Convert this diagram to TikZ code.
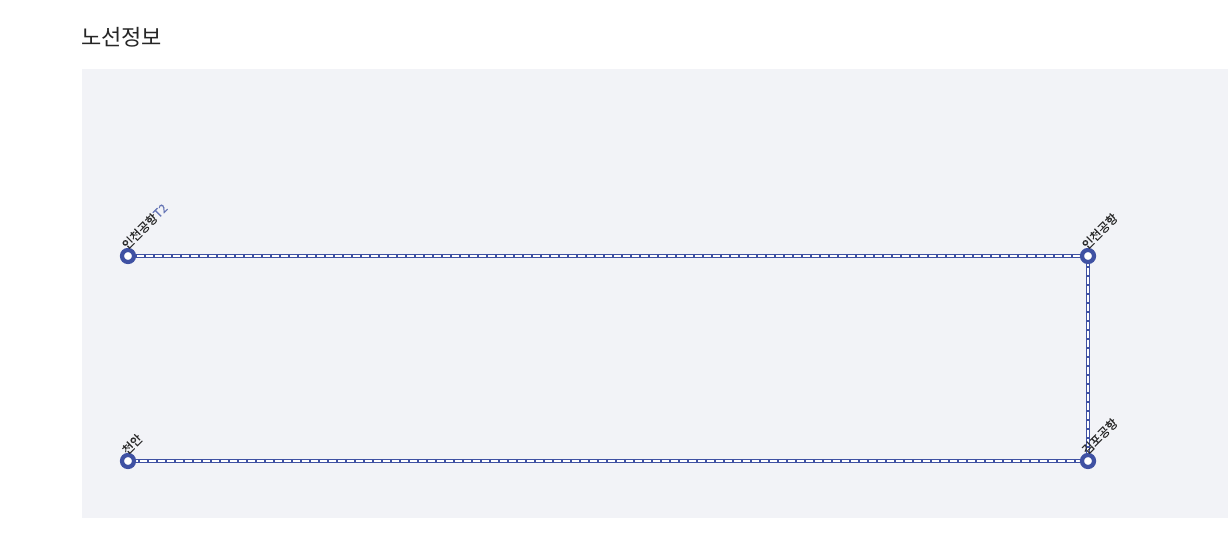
\documentclass[tikz,border=0pt]{standalone}
\usepackage{fontspec}
\usetikzlibrary{calc}
\setmainfont{Noto Sans CJK KR}
\newfontfamily\lblfont[FakeBold=0.5]{Noto Sans CJK KR}
\definecolor{panel}{HTML}{F2F3F7}
\definecolor{route}{HTML}{3F51A3}
\definecolor{txt}{HTML}{2A2A2A}
\begin{document}
\begin{tikzpicture}[x=1pt,y=-1pt,
  track/.style={draw=route,line width=4pt},
  trackin/.style={draw=white,line width=1.1pt,dash pattern=on 7pt off 2pt},
  station/.style={circle,draw=route,fill=white,line width=4.2pt,minimum size=12pt,inner sep=0pt},
  slabel/.style={anchor=south west,rotate=45,inner sep=0pt,font=\lblfont\fontsize{12}{12}\selectfont,text=txt}]
\useasboundingbox (0,0) rectangle (1228,548);
\fill[white] (0,0) rectangle (1228,548);
\fill[panel] (82,69) rectangle (1228,518);
\node[anchor=west,inner sep=0pt,font=\fontsize{22}{22}\selectfont,text=black!85] (title) at (81,37) {노선정보};
\coordinate (a) at (128,256);
\coordinate (b) at (1088,256);
\coordinate (c) at (1088,461);
\coordinate (d) at (128,461);
\draw[track] (a) -- (b) -- (c) -- (d);
\draw[trackin] (a) -- (b) -- (c) -- (d);
\node[station] (sa) at (a) {};
\node[station] (sb) at (b) {};
\node[station] (sc) at (c) {};
\node[station] (sd) at (d) {};
\node[slabel] (la) at ($(a)+(0,-5)$) {인천공항\textcolor{route!80}{T2}};
\node[slabel] (lb) at ($(b)+(0,-5)$) {인천공항};
\node[slabel] (lc) at ($(c)+(0,-5)$) {김포공항};
\node[slabel] (ld) at ($(d)+(0,-5)$) {천안};
\end{tikzpicture}
\end{document}
